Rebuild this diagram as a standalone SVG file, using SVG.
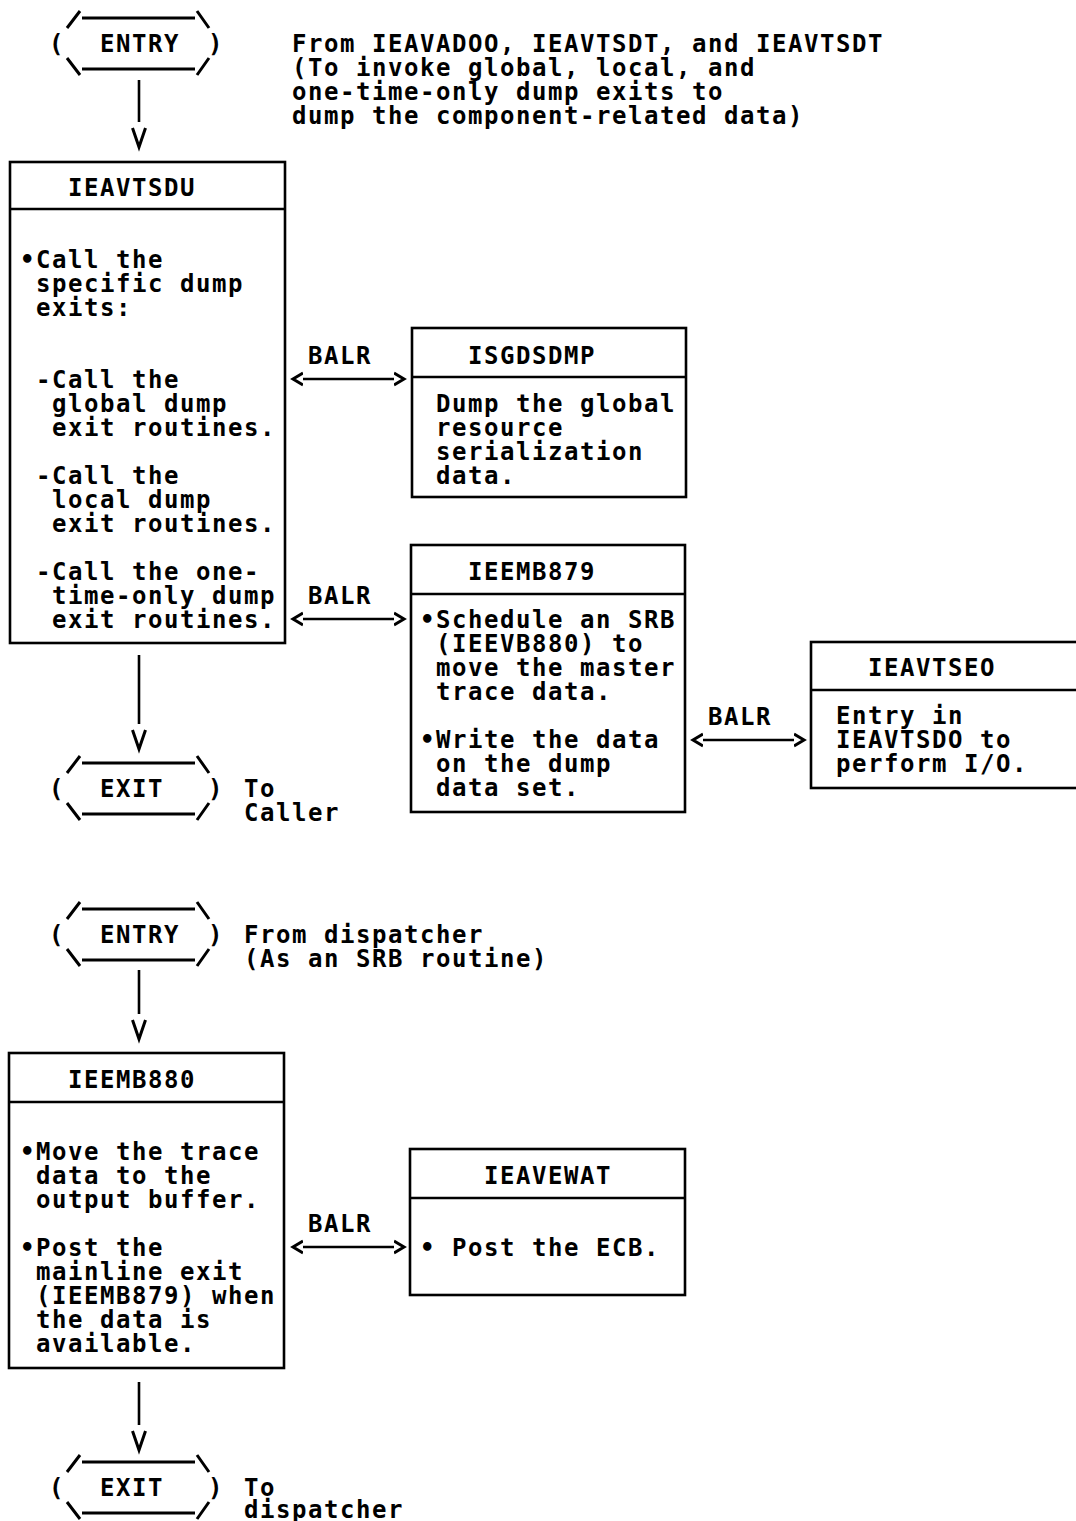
<svg xmlns="http://www.w3.org/2000/svg" xmlns:xlink="http://www.w3.org/1999/xlink" width="1076" height="1521" viewBox="0 0 1076 1521">
<style>
.t{font-family:"DejaVu Sans Mono","Liberation Mono",monospace;font-weight:bold;font-size:24px;letter-spacing:1.55px;fill:#000}
.box{fill:none;stroke:#000;stroke-width:2.6}
.ln{fill:none;stroke:#000;stroke-width:2.6}
.fr{fill:none;stroke:#000;stroke-width:3}
</style>
<defs>
<path id="frame" class="fr" d="M67,-24 L80,-41 M82,-34 H195 M197,-41 L209,-24 M67,6 L80,23 M82,17 H195 M197,23 L209,6"/>
<marker id="chev" markerUnits="userSpaceOnUse" viewBox="0 -8 14 16" markerWidth="14" markerHeight="16" refX="0" refY="0" orient="auto-start-reverse">
<path d="M0,-6 L10,0 L0,6" fill="none" stroke="#000" stroke-width="3"/>
</marker>
<marker id="vee" markerUnits="userSpaceOnUse" viewBox="0 -9 30 18" markerWidth="30" markerHeight="18" refX="0" refY="0" orient="auto">
<path d="M6,-6.5 L25,0 L6,6.5" fill="none" stroke="#000" stroke-width="3"/>
</marker>
</defs>
<rect width="1076" height="1521" fill="#fff"/>

<g id="entry1" transform="translate(0,52)">
<use xlink:href="#frame"/>
<text class="t" x="49" y="0">(</text>
<text class="t" x="100" y="0">ENTRY</text>
<text class="t" x="208" y="0">)</text>
<text class="t" x="292" y="0">From IEAVADOO, IEAVTSDT, and IEAVTSDT</text>
<text class="t" x="292" y="24">(To invoke global, local, and</text>
<text class="t" x="292" y="48">one-time-only dump exits to</text>
<text class="t" x="292" y="72">dump the component-related data)</text>
</g>

<g id="IEAVTSDU">
<rect class="box" x="10" y="162" width="275" height="481"/>
<line class="ln" x1="10" y1="209" x2="285" y2="209"/>
<text class="t" x="68" y="196">IEAVTSDU</text>
<text class="t" x="20" y="268">•Call the</text>
<text class="t" x="36" y="292">specific dump</text>
<text class="t" x="36" y="316">exits:</text>
<text class="t" x="36" y="388">-Call the</text>
<text class="t" x="52" y="412">global dump</text>
<text class="t" x="52" y="436">exit routines.</text>
<text class="t" x="36" y="484">-Call the</text>
<text class="t" x="52" y="508">local dump</text>
<text class="t" x="52" y="532">exit routines.</text>
<text class="t" x="36" y="580">-Call the one-</text>
<text class="t" x="52" y="604">time-only dump</text>
<text class="t" x="52" y="628">exit routines.</text>
</g>

<g id="ISGDSDMP">
<rect class="box" x="412" y="328" width="274" height="169"/>
<line class="ln" x1="412" y1="377" x2="686" y2="377"/>
<text class="t" x="468" y="364">ISGDSDMP</text>
<text class="t" x="436" y="412">Dump the global</text>
<text class="t" x="436" y="436">resource</text>
<text class="t" x="436" y="460">serialization</text>
<text class="t" x="436" y="484">data.</text>
</g>

<g id="IEEMB879">
<rect class="box" x="411" y="545" width="274" height="267"/>
<line class="ln" x1="411" y1="594" x2="685" y2="594"/>
<text class="t" x="468" y="580">IEEMB879</text>
<text class="t" x="420" y="628">•Schedule an SRB</text>
<text class="t" x="436" y="652">(IEEVB880) to</text>
<text class="t" x="436" y="676">move the master</text>
<text class="t" x="436" y="700">trace data.</text>
<text class="t" x="420" y="748">•Write the data</text>
<text class="t" x="436" y="772">on the dump</text>
<text class="t" x="436" y="796">data set.</text>
</g>

<g id="IEAVTSEO">
<rect class="box" x="811" y="642" width="290" height="146"/>
<line class="ln" x1="811" y1="690" x2="1076" y2="690"/>
<text class="t" x="868" y="676">IEAVTSEO</text>
<text class="t" x="836" y="724">Entry in</text>
<text class="t" x="836" y="748">IEAVTSDO to</text>
<text class="t" x="836" y="772">perform I/O.</text>
</g>

<g id="exit1" transform="translate(0,797)">
<use xlink:href="#frame"/>
<text class="t" x="49" y="0">(</text>
<text class="t" x="100" y="0">EXIT</text>
<text class="t" x="208" y="0">)</text>
<text class="t" x="244" y="0">To</text>
<text class="t" x="244" y="24">Caller</text>
</g>

<g id="entry2" transform="translate(0,943)">
<use xlink:href="#frame"/>
<text class="t" x="49" y="0">(</text>
<text class="t" x="100" y="0">ENTRY</text>
<text class="t" x="208" y="0">)</text>
<text class="t" x="244" y="0">From dispatcher</text>
<text class="t" x="244" y="24">(As an SRB routine)</text>
</g>

<g id="IEEMB880">
<rect class="box" x="9" y="1053" width="275" height="315"/>
<line class="ln" x1="9" y1="1102" x2="284" y2="1102"/>
<text class="t" x="68" y="1088">IEEMB880</text>
<text class="t" x="20" y="1160">•Move the trace</text>
<text class="t" x="36" y="1184">data to the</text>
<text class="t" x="36" y="1208">output buffer.</text>
<text class="t" x="20" y="1256">•Post the</text>
<text class="t" x="36" y="1280">mainline exit</text>
<text class="t" x="36" y="1304">(IEEMB879) when</text>
<text class="t" x="36" y="1328">the data is</text>
<text class="t" x="36" y="1352">available.</text>
</g>

<g id="IEAVEWAT">
<rect class="box" x="410" y="1149" width="275" height="146"/>
<line class="ln" x1="410" y1="1198" x2="685" y2="1198"/>
<text class="t" x="484" y="1184">IEAVEWAT</text>
<text class="t" x="420" y="1256">• Post the ECB.</text>
</g>

<g id="exit2" transform="translate(0,1496)">
<use xlink:href="#frame"/>
<text class="t" x="49" y="0">(</text>
<text class="t" x="100" y="0">EXIT</text>
<text class="t" x="208" y="0">)</text>
<text class="t" x="244" y="0">To</text>
<text class="t" x="244" y="22">dispatcher</text>
</g>

<g id="connectors">
<line class="ln" x1="139" y1="80" x2="139" y2="122" marker-end="url(#vee)"/>
<line class="ln" x1="139" y1="655" x2="139" y2="724" marker-end="url(#vee)"/>
<line class="ln" x1="139" y1="970" x2="139" y2="1014" marker-end="url(#vee)"/>
<line class="ln" x1="139" y1="1382" x2="139" y2="1425" marker-end="url(#vee)"/>
<line class="ln" x1="303" y1="379" x2="394" y2="379" marker-start="url(#chev)" marker-end="url(#chev)"/>
<line class="ln" x1="303" y1="619" x2="394" y2="619" marker-start="url(#chev)" marker-end="url(#chev)"/>
<line class="ln" x1="703" y1="740" x2="794" y2="740" marker-start="url(#chev)" marker-end="url(#chev)"/>
<line class="ln" x1="303" y1="1247" x2="394" y2="1247" marker-start="url(#chev)" marker-end="url(#chev)"/>
<text class="t" x="308" y="364">BALR</text>
<text class="t" x="308" y="604">BALR</text>
<text class="t" x="708" y="725">BALR</text>
<text class="t" x="308" y="1232">BALR</text>
</g>
</svg>
